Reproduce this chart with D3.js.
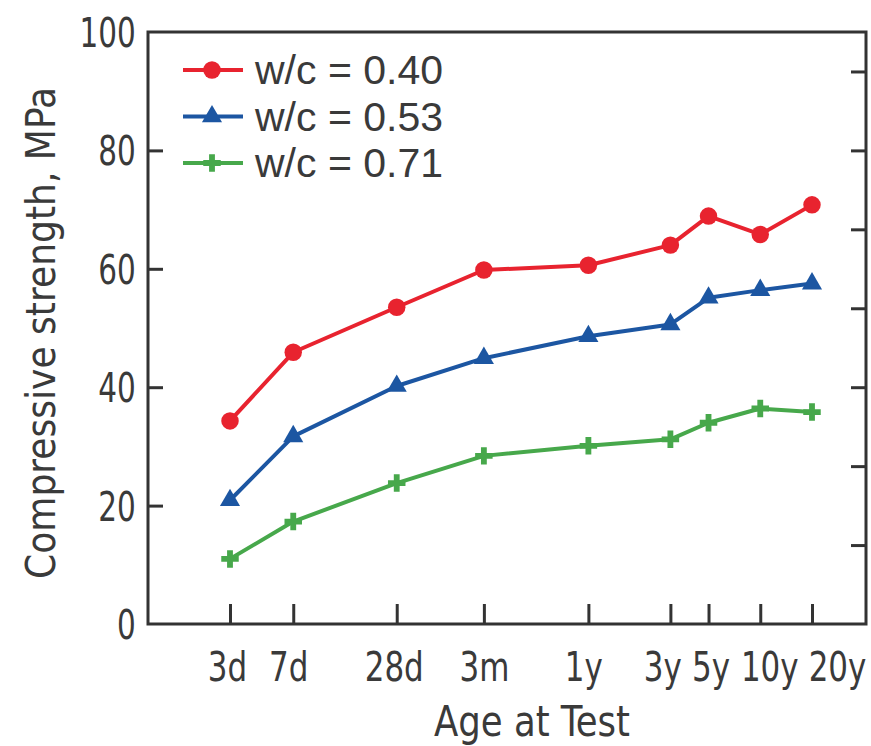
<!DOCTYPE html>
<html>
<head>
<meta charset="utf-8">
<script src="https://cdn.jsdelivr.net/npm/d3@7"></script>
<style>
  body { margin: 0; background: #fff; }
  text { fill: #3a3a3a; }
</style>
</head>
<body>
<div id="chart"></div>
<script>
const ageLabels = ['3d', '7d', '28d', '3m', '1y', '3y', '5y', '10y', '20y'];
const ageDays = [3, 7, 28, 90, 365, 1095, 1825, 3650, 7300];
const wc040 = [34.3, 45.9, 53.5, 59.8, 60.6, 64.0, 68.9, 65.8, 70.8];
const wc053 = [20.9, 31.7, 40.2, 44.9, 48.6, 50.6, 55.1, 56.4, 57.5];
const wc071 = [11.0, 17.3, 23.8, 28.4, 30.1, 31.2, 34.0, 36.4, 35.8];
const yTicks = [0, 20, 40, 60, 80, 100];
const seriesNames = ['w/c = 0.40', 'w/c = 0.53', 'w/c = 0.71'];

const W = 871, H = 746;
const plotL = 148, plotR = 866, plotT = 32, plotB = 624;
// crowded year labels are nudged sideways, as in the original
const labelNudge = [-3, -5, -3, 0, -5, -8, 2, 9, 25];
// no narrow face installed, so the condensed face is squeezed a bit more
const axisFont = '"DejaVu Sans Condensed", "Liberation Sans Narrow", sans-serif';

const svg = d3.select('#chart').append('svg')
  .attr('width', W)
  .attr('height', H);

const x = d3.scaleLog().domain([3, 7300]).range([230, 812]);
const y = d3.scaleLinear().domain([0, 100]).range([plotB, plotT]);
// right-hand frame carries its own evenly spaced unlabeled ticks
const y2 = d3.scaleLinear().domain([0, 7.5]).range([plotB, plotT]);

// frame
svg.append('rect')
  .attr('x', plotL).attr('y', plotT)
  .attr('width', plotR - plotL).attr('height', plotB - plotT)
  .attr('fill', 'none').attr('stroke', '#333').attr('stroke-width', 3);

// bottom axis: inward ticks
const xAxis = svg.append('g')
  .attr('transform', `translate(0,${plotB})`)
  .call(d3.axisBottom(x).tickValues(ageDays).tickSizeInner(-20).tickSizeOuter(0)
    .tickFormat((d, i) => ageLabels[i]).tickPadding(28));
xAxis.select('.domain').remove();
xAxis.selectAll('.tick line').attr('stroke', '#333').attr('stroke-width', 3);
xAxis.selectAll('.tick text')
  .attr('font-family', axisFont).attr('font-size', 41).attr('fill', '#3a3a3a')
  .attr('transform', (d, i) => `translate(${labelNudge[i]},0) scale(0.84,1)`);

// left axis
const yAxis = svg.append('g')
  .attr('transform', `translate(${plotL},0)`)
  .call(d3.axisLeft(y).tickValues(yTicks).tickSizeInner(0).tickSizeOuter(0).tickPadding(15));
yAxis.select('.domain').remove();
yAxis.selectAll('.tick line').remove();
yAxis.selectAll('.tick text')
  .attr('font-family', axisFont).attr('font-size', 40).attr('fill', '#3a3a3a')
  .attr('dy', '0.36em')
  .attr('transform', 'scale(0.82,1)');
yAxis.selectAll('.tick')
  .filter(d => d > 0 && d < 100)
  .append('line')
  .attr('x1', 0).attr('x2', 15)
  .attr('stroke', '#333').attr('stroke-width', 3);

// right axis ticks
const rAxis = svg.append('g')
  .attr('transform', `translate(${plotR},0)`)
  .call(d3.axisLeft(y2).tickValues(d3.range(1, 8)).tickSizeInner(15).tickSizeOuter(0).tickFormat(''));
rAxis.select('.domain').remove();
rAxis.selectAll('.tick line').attr('stroke', '#333').attr('stroke-width', 3);

// axis titles
svg.append('text')
  .attr('transform', 'translate(55,333) rotate(-90)')
  .attr('text-anchor', 'middle')
  .attr('font-family', axisFont).attr('font-size', 41)
  .attr('textLength', 492).attr('lengthAdjust', 'spacingAndGlyphs')
  .text('Compressive strength, MPa');

svg.append('text')
  .attr('x', 532).attr('y', 736)
  .attr('text-anchor', 'middle')
  .attr('font-family', axisFont).attr('font-size', 42)
  .attr('textLength', 196).attr('lengthAdjust', 'spacingAndGlyphs')
  .text('Age at Test');

const series = [
  { name: seriesNames[0], values: wc040, color: '#e8232f', symbol: d3.symbolCircle, size: 240 },
  { name: seriesNames[1], values: wc053, color: '#1c56a2', symbol: d3.symbolTriangle, size: 175 },
  { name: seriesNames[2], values: wc071, color: '#47a84b', symbol: d3.symbolCross, size: 170 }
];

const line = d3.line()
  .x((d, i) => x(ageDays[i]))
  .y(d => y(d));

series.forEach(s => {
  svg.append('path')
    .datum(s.values)
    .attr('fill', 'none')
    .attr('stroke', s.color)
    .attr('stroke-width', 4)
    .attr('stroke-linejoin', 'round')
    .attr('d', line);

  svg.selectAll(null)
    .data(s.values)
    .enter()
    .append('path')
    .attr('transform', (d, i) => `translate(${x(ageDays[i])},${y(d)})`)
    .attr('d', d3.symbol().type(s.symbol).size(s.size))
    .attr('fill', s.color);
});

// legend
const legend = svg.append('g').attr('transform', 'translate(183,70)');
series.forEach((s, i) => {
  const g = legend.append('g').attr('transform', `translate(0,${i * 46.5})`);
  g.append('line')
    .attr('x1', 0).attr('x2', 60)
    .attr('stroke', s.color).attr('stroke-width', 4);
  g.append('path')
    .attr('transform', 'translate(29,0)')
    .attr('d', d3.symbol().type(s.symbol).size(s.size))
    .attr('fill', s.color);
  g.append('text')
    .attr('x', 72).attr('y', 14)
    .attr('font-family', '"Liberation Sans", Arial, sans-serif')
    .attr('font-size', 41)
    .text(s.name);
});
</script>
</body>
</html>
